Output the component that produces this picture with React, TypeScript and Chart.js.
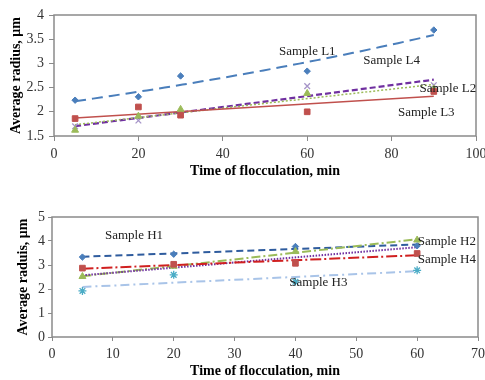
import React, { useEffect, useRef } from "react";
import { Chart, registerables } from "chart.js";

Chart.register(...registerables);

// ---------- Data: top chart (Samples L) ----------
const topTimes = [5, 20, 30, 60, 90];
const sampleL1 = [2.24, 2.31, 2.74, 2.84, 3.69];
const sampleL2 = [1.62, 1.91, 2.05, 2.38, 2.47];
const sampleL3 = [1.86, 2.1, 1.93, 2.0, 2.42];
const sampleL4 = [1.7, 1.82, 1.95, 2.53, 2.55];
const topXTicks = [0, 20, 40, 60, 80, 100];
const topYTicks = [1.5, 2, 2.5, 3, 3.5, 4];

// ---------- Data: bottom chart (Samples H) ----------
const bottomTimes = [5, 20, 40, 60];
const sampleH1 = [3.33, 3.45, 3.77, 3.8];
const sampleH2 = [2.52, 2.95, 3.56, 4.04];
const sampleH3 = [1.92, 2.59, 2.3, 2.78];
const sampleH4 = [2.87, 3.03, 3.07, 3.48];
const sampleH5 = [2.55, 2.9, 3.35, 3.72];
const bottomXTicks = [0, 10, 20, 30, 40, 50, 60, 70];
const bottomYTicks = [0, 1, 2, 3, 4, 5];

// label anchors (data coordinates)
const topLabels = [
  { text: "Sample L1", x: 53.3, y: 3.24 },
  { text: "Sample L4", x: 73.3, y: 3.05 },
  { text: "Sample L2", x: 86.6, y: 2.47 },
  { text: "Sample L3", x: 81.5, y: 1.99 },
];
const bottomLabels = [
  { text: "Sample H1", x: 8.7, y: 4.23 },
  { text: "Sample H2", x: 60.1, y: 3.98 },
  { text: "Sample H4", x: 60.1, y: 3.21 },
  { text: "Sample H3", x: 39.0, y: 2.26 },
];

const SERIF = "'Liberation Serif', 'Times New Roman', serif";

function linFit(xs: number[], ys: number[]) {
  const n = xs.length;
  const mx = xs.reduce((a, b) => a + b, 0) / n;
  const my = ys.reduce((a, b) => a + b, 0) / n;
  let sxx = 0, sxy = 0;
  for (let i = 0; i < n; i++) {
    sxx += (xs[i] - mx) ** 2;
    sxy += (xs[i] - mx) * (ys[i] - my);
  }
  const b = sxy / sxx;
  const a = my - b * mx;
  const x0 = Math.min(...xs), x1 = Math.max(...xs);
  return [
    { x: x0, y: a + b * x0 },
    { x: x1, y: a + b * x1 },
  ];
}

function expFit(xs: number[], ys: number[]) {
  const n = xs.length;
  const ls = ys.map((v) => Math.log(v));
  const mx = xs.reduce((a, b) => a + b, 0) / n;
  const my = ls.reduce((a, b) => a + b, 0) / n;
  let sxx = 0, sxy = 0;
  for (let i = 0; i < n; i++) {
    sxx += (xs[i] - mx) ** 2;
    sxy += (xs[i] - mx) * (ls[i] - my);
  }
  const b = sxy / sxx;
  const a = my - b * mx;
  const x0 = Math.min(...xs), x1 = Math.max(...xs);
  const pts: { x: number; y: number }[] = [];
  const steps = 40;
  for (let i = 0; i <= steps; i++) {
    const x = x0 + ((x1 - x0) * i) / steps;
    pts.push({ x, y: Math.exp(a + b * x) });
  }
  return pts;
}

type SeriesDef = {
  xs: number[];
  ys: number[];
  fit: "lin" | "exp";
  lineColor: string;
  lineWidth: number;
  dash: number[];
  marker: string | false;
  markerColor: string;
  radius: number;
};

function buildDatasets(series: SeriesDef[]) {
  const ds: any[] = [];
  series.forEach((s) => {
    ds.push({
      data: s.fit === "exp" ? expFit(s.xs, s.ys) : linFit(s.xs, s.ys),
      showLine: true,
      borderColor: s.lineColor,
      borderWidth: s.lineWidth,
      borderDash: s.dash,
      pointRadius: 0,
      fill: false,
      order: 2,
    });
    if (s.marker) {
      ds.push({
        data: s.xs.map((x, i) => ({ x, y: s.ys[i] })),
        showLine: false,
        pointStyle: s.marker,
        pointRadius: s.radius,
        backgroundColor: s.markerColor,
        borderColor: s.markerColor,
        borderWidth: s.marker === "crossRot" || s.marker === "star" ? 1.3 : 1,
        order: 1,
      });
    }
  });
  return ds;
}

const boxPlugin = {
  id: "boxPlugin",
  beforeDatasetsDraw(chart: any) {
    const { ctx, chartArea } = chart;
    ctx.save();
    ctx.strokeStyle = "#8a8a8a";
    ctx.lineWidth = 1.5;
    ctx.strokeRect(chartArea.left, chartArea.top, chartArea.right - chartArea.left, chartArea.bottom - chartArea.top);
    ctx.restore();
  },
};

function labelsPlugin(labels: { text: string; x: number; y: number }[]) {
  return {
    id: "labelsPlugin",
    afterDatasetsDraw(chart: any) {
      const { ctx } = chart;
      const xs = chart.scales.x;
      const ys = chart.scales.y;
      ctx.save();
      ctx.font = `13px ${SERIF}`;
      ctx.fillStyle = "#222";
      ctx.textAlign = "left";
      ctx.textBaseline = "middle";
      labels.forEach((l) => {
        ctx.fillText(l.text, xs.getPixelForValue(l.x), ys.getPixelForValue(l.y));
      });
      ctx.restore();
    },
  };
}

type Cfg = {
  series: SeriesDef[];
  xMin: number; xMax: number; xTicks: number[];
  yMin: number; yMax: number; yTicks: number[];
  yTitle: string;
  labels: { text: string; x: number; y: number }[];
  padTop: number; padRight: number;
  yWidth: number; xHeight: number;
  yTickLen: number; yTickPad: number; yTitlePad: number;
  xTickLen: number; xTickPad: number; xTitlePad: number;
};

function ChartBox({ cfg }: { cfg: Cfg }) {
  const ref = useRef<HTMLCanvasElement | null>(null);
  useEffect(() => {
    if (!ref.current) return;
    const tickFont = { family: SERIF, size: 14 };
    const titleFont = { family: SERIF, size: 14, weight: "bold" as const };
    const chart = new Chart(ref.current, {
      type: "scatter",
      data: { datasets: buildDatasets(cfg.series) },
      options: {
        responsive: false,
        animation: false,
        layout: { padding: { top: cfg.padTop, right: cfg.padRight, left: 0, bottom: 0 } },
        plugins: { legend: { display: false }, tooltip: { enabled: false } },
        scales: {
          x: {
            type: "linear",
            min: cfg.xMin,
            max: cfg.xMax,
            afterBuildTicks: (s: any) => { s.ticks = cfg.xTicks.map((v) => ({ value: v })); },
            afterFit: (s: any) => {
              s.height = cfg.xHeight;
              s.paddingLeft = 0; s.paddingRight = 0; s.paddingTop = 0; s.paddingBottom = 0;
            },
            border: { display: false },
            grid: { drawOnChartArea: false, drawTicks: true, tickLength: cfg.xTickLen, color: "#8a8a8a", lineWidth: 1 },
            ticks: { font: tickFont, color: "#333", padding: cfg.xTickPad, maxRotation: 0, autoSkip: false, callback: (v: any) => String(Number(v)) },
            title: { display: true, text: "Time of flocculation, min", font: titleFont, color: "#000", padding: { top: 0, bottom: cfg.xTitlePad } },
          },
          y: {
            type: "linear",
            min: cfg.yMin,
            max: cfg.yMax,
            afterBuildTicks: (s: any) => { s.ticks = cfg.yTicks.map((v) => ({ value: v })); },
            afterFit: (s: any) => {
              s.width = cfg.yWidth;
              s.paddingLeft = 0; s.paddingRight = 0; s.paddingTop = 0; s.paddingBottom = 0;
            },
            border: { display: false },
            grid: { drawOnChartArea: false, drawTicks: true, tickLength: cfg.yTickLen, color: "#8a8a8a", lineWidth: 1 },
            ticks: { font: tickFont, color: "#333", padding: cfg.yTickPad, autoSkip: false, callback: (v: any) => String(Number(v)) },
            title: { display: true, text: cfg.yTitle, font: titleFont, color: "#000", padding: { top: cfg.yTitlePad, bottom: 0 } },
          },
        },
      } as any,
      plugins: [boxPlugin, labelsPlugin(cfg.labels)],
    });
    return () => chart.destroy();
  }, [cfg]);
  return <canvas ref={ref} width={485} height={190} style={{ display: "block", width: 485, height: 190 }} />;
}

const topCfg: Cfg = {
  series: [
    { xs: topTimes, ys: sampleL3, fit: "lin", lineColor: "#C0504D", lineWidth: 1.5, dash: [], marker: "rect", markerColor: "#C0504D", radius: 4 },
    { xs: topTimes, ys: sampleL2, fit: "lin", lineColor: "#9BBB59", lineWidth: 1.5, dash: [2, 2], marker: "triangle", markerColor: "#9BBB59", radius: 4 },
    { xs: topTimes, ys: sampleL4, fit: "lin", lineColor: "#7030A0", lineWidth: 2.2, dash: [6, 3], marker: "crossRot", markerColor: "#A695C8", radius: 4 },
    { xs: topTimes, ys: sampleL1, fit: "exp", lineColor: "#4A7EBB", lineWidth: 2, dash: [11, 6], marker: "rectRot", markerColor: "#4A7EBB", radius: 3.2 },
  ],
  xMin: 0, xMax: 100, xTicks: topXTicks,
  yMin: 1.5, yMax: 4, yTicks: topYTicks,
  yTitle: "Average radius, μm",
  labels: topLabels,
  padTop: 15, padRight: 9,
  yWidth: 54, xHeight: 54,
  yTickLen: 5, yTickPad: 5, yTitlePad: 7.6,
  xTickLen: 5, xTickPad: 4.6, xTitlePad: 10.6,
};

const bottomCfg: Cfg = {
  series: [
    { xs: bottomTimes, ys: sampleH3, fit: "lin", lineColor: "#A9C4E8", lineWidth: 2, dash: [9, 4, 2, 4], marker: "star", markerColor: "#4BACC6", radius: 4 },
    { xs: bottomTimes, ys: sampleH4, fit: "lin", lineColor: "#D02020", lineWidth: 2, dash: [11, 3, 2, 3], marker: "rect", markerColor: "#C0504D", radius: 4 },
    { xs: bottomTimes, ys: sampleH5, fit: "lin", lineColor: "#7030A0", lineWidth: 2, dash: [1.5, 1.5], marker: false, markerColor: "#7030A0", radius: 0 },
    { xs: bottomTimes, ys: sampleH2, fit: "lin", lineColor: "#9BBB59", lineWidth: 2, dash: [9, 3, 2, 3], marker: "triangle", markerColor: "#9BBB59", radius: 4 },
    { xs: bottomTimes, ys: sampleH1, fit: "lin", lineColor: "#2F5C9E", lineWidth: 2, dash: [7, 4], marker: "rectRot", markerColor: "#4A7EBB", radius: 3.2 },
  ],
  xMin: 0, xMax: 70, xTicks: bottomXTicks,
  yMin: 0, yMax: 5, yTicks: bottomYTicks,
  yTitle: "Average raduis, μm",
  labels: bottomLabels,
  padTop: 27, padRight: 7,
  yWidth: 52, xHeight: 43,
  yTickLen: 4, yTickPad: 3, yTitlePad: 14.6,
  xTickLen: 4, xTickPad: 5, xTitlePad: 0,
};

export default function App() {
  return (
    <div style={{ position: "absolute", left: 0, top: 0, width: 485, height: 380, background: "#fff" }}>
      <ChartBox cfg={topCfg} />
      <ChartBox cfg={bottomCfg} />
    </div>
  );
}
